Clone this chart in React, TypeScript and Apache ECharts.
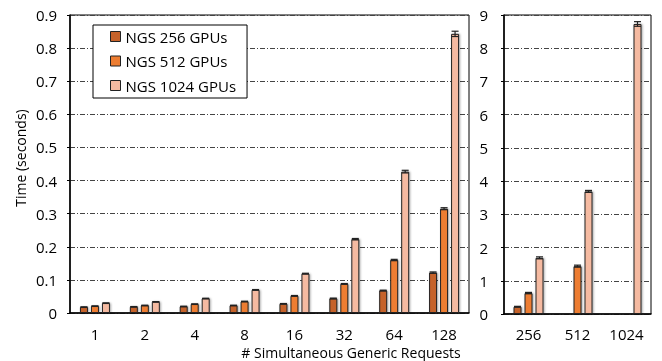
import React, { useEffect, useRef } from "react";
import * as echarts from "echarts";

const leftCategories = ["1", "2", "4", "8", "16", "32", "64", "128"];
const rightCategories = ["256", "512", "1024"];
const seriesNames = ["NGS 256 GPUs", "NGS 512 GPUs", "NGS 1024 GPUs"];
const colors = ["#C5622B", "#ED7D31", "#F5BAA1"];

const left256 = [0.018, 0.019, 0.02, 0.023, 0.028, 0.044, 0.068, 0.122];
const left512 = [0.021, 0.023, 0.027, 0.035, 0.052, 0.088, 0.16, 0.315];
const left1024 = [0.03, 0.034, 0.044, 0.07, 0.119, 0.223, 0.427, 0.843];
const leftErr256 = [0.0005, 0.0005, 0.0005, 0.0005, 0.0006, 0.001, 0.001, 0.002];
const leftErr512 = [0.0005, 0.0005, 0.0005, 0.0006, 0.0008, 0.001, 0.002, 0.003];
const leftErr1024 = [0.0005, 0.0005, 0.0006, 0.0008, 0.001, 0.002, 0.004, 0.008];

const right256: (number | null)[] = [0.22, null, null];
const right512: (number | null)[] = [0.63, 1.44, null];
const right1024: (number | null)[] = [1.69, 3.69, 8.73];
const rightErr256 = [0.01, 0, 0];
const rightErr512 = [0.02, 0.03, 0];
const rightErr1024 = [0.03, 0.03, 0.07];

const leftTicks = { min: 0, max: 0.9, interval: 0.1 };
const rightTicks = { min: 0, max: 9, interval: 1 };

const FONT = "'Open Sans', 'Noto Sans', sans-serif";
const FS = 15;
const BAR_W = 8;
const STEP = 11;

export default function App() {
  const ref = useRef<HTMLDivElement>(null);
  useEffect(() => {
    if (!ref.current) return;
    const chart = echarts.init(ref.current, undefined, { renderer: "svg" });

    const gridLine = {
      show: true,
      lineStyle: { color: "#444", width: 1, type: [5, 2, 1, 2] as any },
    };
    const barStyle = (i: number) => ({
      color: colors[i],
      borderColor: "#222",
      borderWidth: 1,
      shadowColor: "rgba(0,0,0,0.35)",
      shadowBlur: 2,
      shadowOffsetX: 1,
    });

    const leftVals = [left256, left512, left1024];
    const leftErrs = [leftErr256, leftErr512, leftErr1024];
    const rightVals = [right256, right512, right1024];
    const rightErrs = [rightErr256, rightErr512, rightErr1024];

    const barSeries: any[] = [];
    seriesNames.forEach((name, i) => {
      barSeries.push({
        name,
        type: "bar",
        xAxisIndex: 0,
        yAxisIndex: 0,
        data: leftVals[i],
        barWidth: BAR_W,
        barGap: "37.5%",
        itemStyle: barStyle(i),
      });
    });
    seriesNames.forEach((name, i) => {
      barSeries.push({
        name,
        type: "bar",
        xAxisIndex: 1,
        yAxisIndex: 1,
        data: rightVals[i].map((v) => (v == null ? "-" : v)),
        barWidth: BAR_W,
        barGap: "37.5%",
        itemStyle: barStyle(i),
      });
    });

    const errData = (vals: (number | null)[][], errs: number[][]) => {
      const out: number[][] = [];
      vals.forEach((arr, s) =>
        arr.forEach((v, c) => {
          if (v != null) out.push([c, v, errs[s][c], s]);
        })
      );
      return out;
    };

    const renderErr = (params: any, api: any) => {
      const c = api.value(0);
      const v = api.value(1);
      const e = api.value(2);
      const s = api.value(3);
      const off = (s - 1) * STEP;
      const top = api.coord([c, v + e]);
      const bot = api.coord([c, v - e]);
      const x = top[0] + off;
      const hw = 3.5;
      const style = { stroke: "#222", lineWidth: 1.2 };
      return {
        type: "group",
        children: [
          { type: "line", shape: { x1: x, y1: top[1], x2: x, y2: bot[1] }, style },
          { type: "line", shape: { x1: x - hw, y1: top[1], x2: x + hw, y2: top[1] }, style },
          { type: "line", shape: { x1: x - hw, y1: bot[1], x2: x + hw, y2: bot[1] }, style },
        ],
      };
    };

    const axisLabel = { color: "#000", fontSize: FS, fontFamily: FONT };

    chart.setOption({
      animation: false,
      textStyle: { fontFamily: FONT },
      legend: {
        data: seriesNames,
        orient: "vertical",
        left: 93,
        top: 25,
        padding: [4, 11, 5, 17],
        itemGap: 9.5,
        itemWidth: 10,
        itemHeight: 10,
        icon: "rect",
        backgroundColor: "#fff",
        borderColor: "#000",
        borderWidth: 1,
        borderRadius: 0,
        textStyle: { fontSize: 15, color: "#000", fontFamily: FONT },
        itemStyle: { borderColor: "#222", borderWidth: 1, shadowBlur: 0, shadowOffsetX: 0 },
      },
      grid: [
        { left: 70, right: 193, top: 15, bottom: 48, show: true, borderColor: "#000", borderWidth: 1 },
        { left: 504, right: 11, top: 15, bottom: 47, show: true, borderColor: "#000", borderWidth: 1 },
      ],
      xAxis: [
        {
          type: "category",
          gridIndex: 0,
          data: leftCategories,
          axisLine: { lineStyle: { color: "#000", width: 1.5 } },
          axisTick: { show: false },
          axisLabel: { ...axisLabel, margin: 13 },
        },
        {
          type: "category",
          gridIndex: 1,
          data: rightCategories,
          axisLine: { lineStyle: { color: "#000", width: 1.5 } },
          axisTick: { show: false },
          axisLabel: { ...axisLabel, margin: 12 },
        },
      ],
      yAxis: [
        {
          type: "value",
          gridIndex: 0,
          ...leftTicks,
          axisLine: { show: true, lineStyle: { color: "#000", width: 1.5 } },
          axisTick: { show: true, length: 3, lineStyle: { color: "#000" } },
          axisLabel: { ...axisLabel, margin: 13, formatter: (v: number) => (v === 0 ? "0" : v.toFixed(1)) },
          splitLine: gridLine,
        },
        {
          type: "value",
          gridIndex: 1,
          ...rightTicks,
          axisLine: { show: true, lineStyle: { color: "#000", width: 1.5 } },
          axisTick: { show: true, length: 3, lineStyle: { color: "#000" } },
          axisLabel: { ...axisLabel, margin: 16 },
          splitLine: gridLine,
        },
      ],
      graphic: [
        {
          type: "text",
          x: 351,
          y: 352.5,
          style: {
            text: "# Simultaneous Generic Requests",
            fontSize: 14,
            fill: "#000",
            fontFamily: FONT,
            align: "center",
            verticalAlign: "middle",
          },
        },
        {
          type: "text",
          x: 20,
          y: 158,
          rotation: Math.PI / 2,
          style: {
            text: "Time (seconds)",
            fontSize: 14,
            fill: "#000",
            fontFamily: FONT,
            align: "center",
            verticalAlign: "middle",
          },
        },
      ],
      series: [
        ...barSeries,
        {
          type: "custom",
          xAxisIndex: 0,
          yAxisIndex: 0,
          renderItem: renderErr,
          data: errData(leftVals, leftErrs),
          z: 5,
          silent: true,
        },
        {
          type: "custom",
          xAxisIndex: 1,
          yAxisIndex: 1,
          renderItem: renderErr,
          data: errData(rightVals, rightErrs),
          z: 5,
          silent: true,
        },
      ],
    });
    return () => chart.dispose();
  }, []);
  return (
    <div
      ref={ref}
      style={{ position: "fixed", left: 0, top: 0, width: 662, height: 361 }}
    />
  );
}
